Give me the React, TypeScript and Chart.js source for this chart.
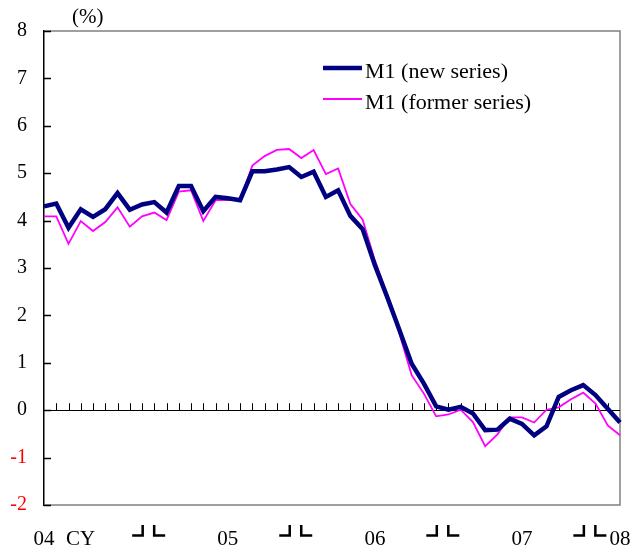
import React, { useEffect, useRef } from "react";
import { Chart, registerables } from "chart.js";

Chart.register(...registerables);

// Monthly categories: Apr 2004 – Mar 2008
const months: string[] = [];
for (let y = 2004; y <= 2008; y++) {
  for (let m = 1; m <= 12; m++) {
    if ((y === 2004 && m < 4) || (y === 2008 && m > 3)) continue;
    months.push(`${y}-${String(m).padStart(2, "0")}`);
  }
}

const m1New: number[] = [
  4.30, 4.36, 3.85, 4.24, 4.08, 4.24, 4.58, 4.23, 4.34,
  4.39, 4.17, 4.73, 4.73, 4.20, 4.50, 4.47, 4.43, 5.04, 5.04, 5.08, 5.13,
  4.92, 5.03, 4.50, 4.64, 4.10, 3.82, 3.06, 2.39, 1.69, 0.98, 0.56, 0.08,
  0.01, 0.07, -0.07, -0.42, -0.41, -0.18, -0.29, -0.53, -0.34, 0.28, 0.42, 0.53,
  0.32, 0.03, -0.26,
];

const m1Former: number[] = [
  4.09, 4.09, 3.51, 3.99, 3.78, 3.97, 4.28, 3.87, 4.09,
  4.17, 4.01, 4.61, 4.64, 3.99, 4.43, 4.43, 4.43, 5.16, 5.36, 5.49, 5.51,
  5.32, 5.49, 4.98, 5.10, 4.35, 4.02, 3.16, 2.43, 1.62, 0.74, 0.35, -0.13,
  -0.09, 0.01, -0.25, -0.76, -0.51, -0.15, -0.15, -0.26, 0.01, 0.06, 0.23, 0.37,
  0.14, -0.32, -0.53,
];

const seriesNames: string[] = ["M1 (new series)", "M1 (former series)"];
const seriesColors: string[] = ["#000080", "#FF00FF"];

const yearLabels: string[] = ["04", "05", "06", "07", "08"];
const yearLabelMonths: string[] = ["2004-04", "2005-07", "2006-07", "2007-07", "2008-03"];
const yTicks: number[] = [-2, -1, 0, 1, 2, 3, 4, 5, 6, 7, 8];

const SERIF = "'Liberation Serif', 'Times New Roman', serif";

const overlay = {
  id: "overlay",
  beforeDatasetsDraw(chart: any) {
    const { ctx, chartArea: a, scales } = chart;
    const x = scales.x;
    const y = scales.y;
    ctx.save();
    // frame top / right / bottom
    ctx.strokeStyle = "#808080";
    ctx.lineWidth = 1.5;
    ctx.beginPath();
    ctx.moveTo(a.left, a.top);
    ctx.lineTo(a.right, a.top);
    ctx.lineTo(a.right, a.bottom);
    ctx.lineTo(a.left, a.bottom);
    ctx.stroke();
    // zero line
    const y0 = y.getPixelForValue(0);
    ctx.strokeStyle = "#000";
    ctx.lineWidth = 1;
    ctx.beginPath();
    ctx.moveTo(a.left, Math.round(y0) + 0.5);
    ctx.lineTo(a.right, Math.round(y0) + 0.5);
    ctx.stroke();
    // monthly tick marks on zero line
    ctx.beginPath();
    for (let i = 1; i < months.length - 1; i++) {
      const px = Math.round(x.getPixelForValue(i)) + 0.5;
      ctx.moveTo(px, y0);
      ctx.lineTo(px, y0 - 7);
    }
    ctx.stroke();
    // inward y ticks
    ctx.lineWidth = 1.5;
    ctx.beginPath();
    for (const v of yTicks) {
      const py = Math.round(y.getPixelForValue(v)) + 0.5;
      ctx.moveTo(a.left, py);
      ctx.lineTo(a.left + 7, py);
    }
    ctx.stroke();
    ctx.restore();
  },
  afterDraw(chart: any) {
    const { ctx, scales } = chart;
    const x = scales.x;
    ctx.save();
    // unit
    ctx.fillStyle = "#000";
    ctx.font = `21px ${SERIF}`;
    ctx.textAlign = "left";
    ctx.textBaseline = "middle";
    ctx.fillText("(%)", 72, 17);
    // legend
    const legendY = [68, 99];
    seriesNames.forEach((name, i) => {
      ctx.strokeStyle = seriesColors[i];
      ctx.lineWidth = i === 0 ? 4.5 : 1.8;
      ctx.beginPath();
      ctx.moveTo(323, legendY[i]);
      ctx.lineTo(362, legendY[i]);
      ctx.stroke();
      ctx.fillStyle = "#000";
      ctx.font = `22px ${SERIF}`;
      ctx.textAlign = "left";
      ctx.textBaseline = "alphabetic";
      ctx.fillText(name, 365, legendY[i] + 9.5);
    });
    // year labels
    ctx.font = `21px ${SERIF}`;
    ctx.textBaseline = "alphabetic";
    yearLabels.forEach((lab, i) => {
      const idx = months.indexOf(yearLabelMonths[i]);
      const px = x.getPixelForValue(idx);
      ctx.textAlign = "center";
      ctx.fillText(lab, px, 545);
      if (i === 0) {
        ctx.textAlign = "left";
        ctx.fillText("CY", px + 22, 545);
      }
    });
    // year boundary brackets
    ctx.strokeStyle = "#000";
    ctx.lineWidth = 2.5;
    for (let i = 1; i < months.length; i++) {
      if (months[i].endsWith("-01")) {
        const bx = (x.getPixelForValue(i - 1) + x.getPixelForValue(i)) / 2;
        ctx.beginPath();
        ctx.moveTo(bx - 16, 535.5);
        ctx.lineTo(bx - 5.5, 535.5);
        ctx.lineTo(bx - 5.5, 525);
        ctx.stroke();
        ctx.beginPath();
        ctx.moveTo(bx + 6, 525);
        ctx.lineTo(bx + 6, 535.5);
        ctx.lineTo(bx + 17, 535.5);
        ctx.stroke();
      }
    }
    ctx.restore();
  },
};

export default function App() {
  const ref = useRef<HTMLCanvasElement | null>(null);
  useEffect(() => {
    if (!ref.current) return;
    const chart = new Chart(ref.current, {
      type: "line",
      data: {
        labels: months,
        datasets: [
          {
            label: seriesNames[0],
            data: m1New,
            borderColor: seriesColors[0],
            borderWidth: 4.5,
            pointRadius: 0,
            tension: 0,
            fill: false,
          },
          {
            label: seriesNames[1],
            data: m1Former,
            borderColor: seriesColors[1],
            borderWidth: 1.8,
            pointRadius: 0,
            tension: 0,
            fill: false,
          },
        ],
      },
      options: {
        animation: false,
        responsive: false,
        devicePixelRatio: 1,
        layout: { padding: { top: 31, right: 13, left: 0, bottom: 0 } },
        plugins: {
          legend: { display: false },
          tooltip: { enabled: false },
        },
        scales: {
          x: {
            type: "category",
            offset: false,
            grid: { display: false },
            border: { display: false },
            ticks: { display: false },
            afterFit: (s: any) => {
              s.height = 50;
            },
          },
          y: {
            min: -2,
            max: 8,
            afterBuildTicks: (s: any) => {
              s.ticks = yTicks.map((v) => ({ value: v }));
            },
            grid: { display: false, drawTicks: false },
            border: { display: true, color: "#000", width: 1.5 },
            ticks: {
              padding: 17,
              font: { family: SERIF, size: 20 },
              color: (c: any) => (c.tick && c.tick.value < 0 ? "#FF0000" : "#000"),
              callback: (v: any) => String(v),
            },
            afterFit: (s: any) => {
              s.width = 44;
            },
          },
        },
      },
      plugins: [overlay],
    });
    return () => chart.destroy();
  }, []);
  return (
    <div style={{ position: "fixed", left: 0, top: 0, width: 633, height: 555, background: "#fff" }}>
      <canvas ref={ref} width={633} height={555} style={{ display: "block", width: 633, height: 555 }} />
    </div>
  );
}
